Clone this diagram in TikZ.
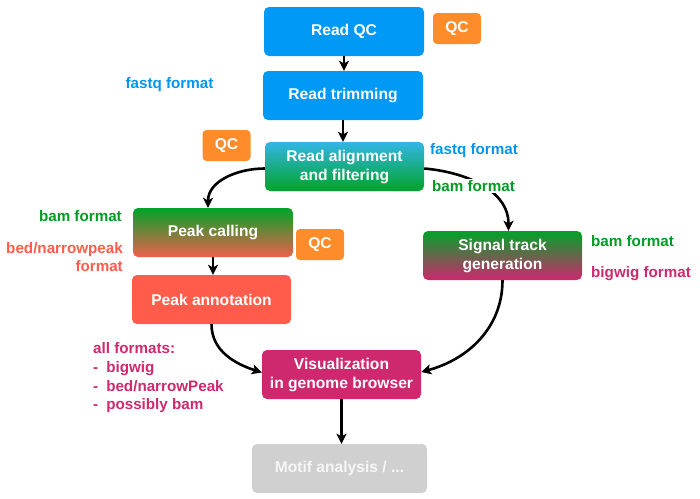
\documentclass[tikz,border=0pt]{standalone}
\usepackage{fontspec}
\setmainfont{Liberation Sans}
\usetikzlibrary{arrows.meta}
\definecolor{cblue}{RGB}{0,153,245}
\definecolor{corange}{RGB}{255,140,42}
\definecolor{cteal}{RGB}{50,182,230}
\definecolor{cgreen}{RGB}{0,163,40}
\definecolor{cgreenlab}{RGB}{0,155,35}
\definecolor{csalmon}{RGB}{255,92,76}
\definecolor{csalmonb}{RGB}{238,96,76}
\definecolor{cmag}{RGB}{206,40,110}
\definecolor{cgray}{RGB}{208,208,208}
\definecolor{cbluelab}{RGB}{0,150,240}
\tikzset{
  box/.style={rounded corners=5pt, minimum width=160pt, minimum height=49pt, inner sep=0pt,
    text=white, align=center, font=\bfseries\fontsize{15.6}{19}\selectfont},
  qcbox/.style={rounded corners=4pt, fill=corange, minimum width=48pt, minimum height=31pt, inner sep=0pt,
    text=white, font=\bfseries\fontsize{15.6}{18}\selectfont},
  lab/.style={inner sep=1pt, font=\bfseries\fontsize{15.2}{18.7}\selectfont},
  flow/.style={line width=2.6pt, -{Stealth[length=10pt,width=10pt,inset=2.5pt]}},
}
\begin{document}
\begin{tikzpicture}[x=1pt,y=-1pt]
\useasboundingbox (0,0) rectangle (700,498);
% boxes
\node[box, fill=cblue] (rqc) at (344,31.5) {Read QC};
\node[box, fill=cblue] (rt) at (343,95.5) {Read trimming};
\node[box, minimum width=159pt, top color=cteal, bottom color=cgreen] (al) at (344.5,166.5) {Read alignment\\and filtering};
\node[box, top color=cgreen, bottom color=csalmonb] (pc) at (213,232.5) {Peak calling};
\node[box, minimum width=159pt, fill=csalmon] (pa) at (211.5,299.5) {Peak annotation};
\node[box, minimum width=159pt, top color=cgreen, bottom color=cmag] (sig) at (502.5,255.5) {Signal track\\generation};
\node[box, minimum width=159pt, fill=cmag] (vis) at (341.5,374.5) {Visualization\\in genome browser};
\node[box, minimum width=175pt, fill=cgray, text={rgb,255:red,246;green,246;blue,246}] (motif) at (339.5,468.5) {Motif analysis / ...};
% QC boxes
\node[qcbox] (qc1) at (457,28.5) {QC};
\node[qcbox] (qc2) at (226.5,145.5) {QC};
\node[qcbox] (qc3) at (320,244.5) {QC};
% connectors
\draw[flow] (rqc.south) -- (rt.north -| rqc.south);
\draw[flow] (rt.south) -- (al.north -| rt.south);
\draw[flow] (pc.south) -- (pa.north -| pc.south);
\draw[flow] (vis.south) -- (motif.north -| vis.south);
\draw[flow] ([yshift=-2pt]al.west) to[out=180,in=90] ([xshift=-5pt]pc.north);
\draw[flow] ([yshift=-2pt]al.east) to[out=-5,in=90] ([xshift=6pt]sig.north);
\draw[flow] (pa.south) to[out=-90,in=162] ([yshift=2pt]vis.west);
\draw[flow] (sig.south) to[out=-90,in=15] ([yshift=2.5pt]vis.east);
% labels
\node[lab, text=cbluelab] (l1) at (169.5,85) {fastq format};
\node[lab, text=cbluelab] (l2) at (474,151) {fastq format};
\node[lab, text=cgreenlab, fill=white] (l3) at (473.5,186) {bam format};
\node[lab, text=cgreenlab, anchor=east] (l4) at (123,216) {bam format};
\node[lab, text=csalmon, anchor=east, align=right] (l5) at (124,257) {bed/narrowpeak\\format};
\node[lab, text=cgreenlab, anchor=west] (l6) at (590,241) {bam format};
\node[lab, text=cmag, anchor=west] (l7) at (590,274) {bigwig format};
\node[lab, text=cmag, anchor=west, align=left] (l8) at (92,378) {all formats:\\-\hspace{8pt}bigwig\\-\hspace{8pt}bed/narrowPeak\\-\hspace{8pt}possibly bam};
\end{tikzpicture}
\end{document}
